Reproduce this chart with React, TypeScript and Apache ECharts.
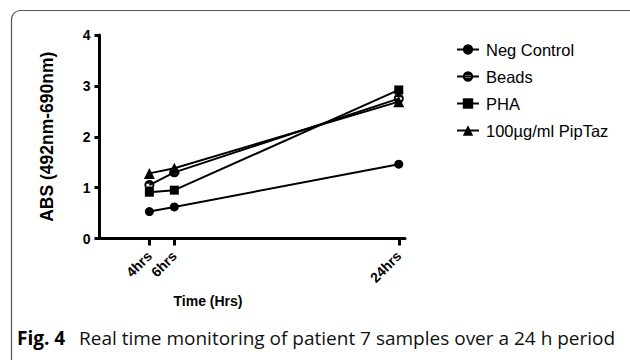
import React, { useEffect, useRef } from "react";
import * as echarts from "echarts";

const hours = [4, 6, 24];
const tickHours = [4, 6, 24];
const negControl = [0.53, 0.62, 1.46];
const beads = [1.05, 1.3, 2.75];
const pha = [0.91, 0.95, 2.92];
const pipTaz = [1.28, 1.38, 2.69];
const seriesNames = ["Neg Control", "Beads", "PHA", "100µg/ml PipTaz"];
const yTitle = "ABS (492nm-690nm)";
const xTitle = "Time (Hrs)";
const captionBold = "Fig. 4";
const captionText = "Real time monitoring of patient 7 samples over a 24 h period";

const FONT = "'Liberation Sans', Arial, sans-serif";
const beadsSymbol =
  "path://M0,-5 A5,5 0 1,1 0,5 A5,5 0 1,1 0,-5 Z M-3,-1.3 L-3,1.3 L3,1.3 L3,-1.3 Z";

export default function App() {
  const ref = useRef<HTMLDivElement>(null);
  useEffect(() => {
    document.body.style.margin = "0";
    const chart = echarts.init(ref.current!, null, { renderer: "svg" });
    const mk = (name: string, vals: number[], symbol: string, size: number) => ({
      name,
      type: "line",
      data: hours.map((h, i) => [h, vals[i]]),
      symbol,
      symbolSize: size,
      showAllSymbol: true,
      lineStyle: { color: "#000", width: 2 },
      itemStyle: { color: "#000", borderWidth: 0 },
      emphasis: { disabled: true },
    });
    chart.setOption({
      animation: false,
      backgroundColor: "#fff",
      grid: { left: 99.5, right: 225, top: 35, bottom: 121.5, containLabel: false },
      legend: {
        data: seriesNames,
        orient: "vertical",
        left: 451,
        top: 36,
        itemWidth: 22,
        itemHeight: 13,
        itemGap: 10,
        textStyle: { fontSize: 16.5, fontFamily: FONT, color: "#000", padding: [0, 0, 0, 2] },
      },
      xAxis: {
        type: "value",
        min: 0,
        max: 24.5,
        axisLine: { show: true, onZero: false, lineStyle: { color: "#000", width: 3 } },
        axisTick: {
          show: true,
          customValues: tickHours,
          length: 7,
          lineStyle: { color: "#000", width: 3 },
        },
        axisLabel: {
          customValues: tickHours,
          rotate: 45,
          margin: 15,
          fontSize: 14,
          fontWeight: "bold",
          fontFamily: FONT,
          color: "#000",
          formatter: (v: number) => `${v}hrs`,
        },
        splitLine: { show: false },
      },
      yAxis: {
        type: "value",
        min: 0,
        max: 4,
        interval: 1,
        name: yTitle,
        nameLocation: "middle",
        nameRotate: 90,
        nameGap: 44,
        nameTextStyle: { fontSize: 17.5, fontWeight: "bold", fontFamily: FONT, color: "#000" },
        axisLine: { show: true, lineStyle: { color: "#000", width: 3 } },
        axisTick: { show: true, length: 5, lineStyle: { color: "#000", width: 3 } },
        axisLabel: {
          margin: 9,
          fontSize: 14,
          fontWeight: "bold",
          fontFamily: FONT,
          color: "#000",
        },
        splitLine: { show: false },
      },
      graphic: [
        {
          type: "rect",
          shape: { x: 11.5, y: 10.5, width: 640, height: 380, r: 9 },
          style: { fill: "none", stroke: "#555", lineWidth: 1.2 },
          silent: true,
        },
        {
          type: "text",
          x: 208,
          y: 301,
          style: {
            text: xTitle,
            font: `bold 14px ${FONT}`,
            fill: "#000",
            align: "center",
            verticalAlign: "middle",
          },
        },
        {
          type: "text",
          x: 17,
          y: 347,
          style: {
            text: captionBold,
            font: "bold 19px 'Open Sans', 'Noto Sans', sans-serif",
            fill: "#000",
            verticalAlign: "bottom",
          },
        },
        {
          type: "text",
          x: 79,
          y: 347,
          style: {
            text: captionText,
            font: "19px 'Open Sans', 'Noto Sans', sans-serif",
            fill: "#111",
            verticalAlign: "bottom",
          },
        },
      ],
      series: [
        mk(seriesNames[0], negControl, "circle", 9),
        mk(seriesNames[1], beads, beadsSymbol, 10),
        mk(seriesNames[2], pha, "rect", 9),
        mk(seriesNames[3], pipTaz, "triangle", 11),
      ],
    });
    return () => chart.dispose();
  }, []);
  return <div ref={ref} style={{ width: 630, height: 360 }} />;
}
